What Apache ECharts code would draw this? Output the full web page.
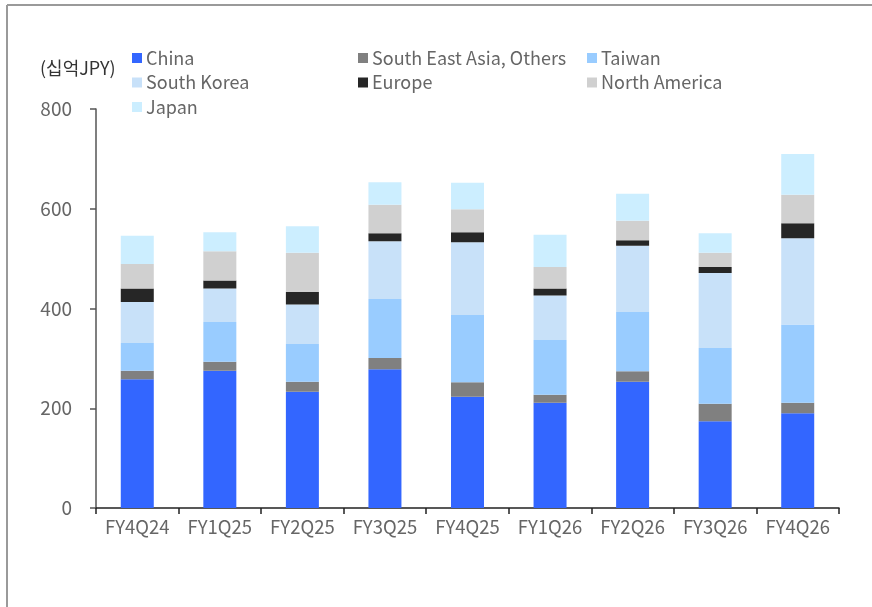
<!DOCTYPE html>
<html>
<head>
<meta charset="utf-8">
<script src="https://cdn.jsdelivr.net/npm/echarts@6/dist/echarts.min.js"></script>
<style>
  html, body { margin: 0; padding: 0; background: #fff; }
  #chart { width: 872px; height: 607px; }
</style>
</head>
<body>
<div id="chart"></div>
<script>
// 분기별 지역 매출 (십억JPY)
var quarters = ['FY4Q24', 'FY1Q25', 'FY2Q25', 'FY3Q25', 'FY4Q25', 'FY1Q26', 'FY2Q26', 'FY3Q26', 'FY4Q26'];
var china = [258, 275, 233, 278, 223, 211, 253, 174, 190];
var seaOthers = [17, 18, 20, 23, 29, 16, 21, 35, 21];
var taiwan = [56, 80, 76, 118, 135, 110, 119, 112, 157];
var southKorea = [82, 67, 79, 116, 146, 89, 133, 150, 173];
var europe = [27, 16, 25, 16, 20, 14, 11, 12, 30];
var northAmerica = [49, 59, 79, 57, 46, 43, 39, 29, 57];
var japan = [57, 38, 53, 45, 53, 65, 54, 39, 82];
var yTicks = [0, 200, 400, 600, 800];

var font = '"Noto Sans CJK KR", "Noto Sans", sans-serif';
var grey = '#666';

var chart = echarts.init(document.getElementById('chart'));

function bar(name, data, color) {
  return {
    name: name,
    type: 'bar',
    stack: 'total',
    barWidth: 33,
    data: data,
    itemStyle: {color: color},
    emphasis: {disabled: true}
  };
}

function legend(left, names) {
  return {
    orient: 'vertical',
    left: left,
    top: 44,
    itemWidth: 10,
    itemHeight: 10,
    itemGap: 6.5,
    icon: 'rect',
    data: names,
    selectedMode: false,
    textStyle: {fontFamily: font, fontSize: 18, color: grey, lineHeight: 18, padding: [0, 0, 0, -1]}
  };
}

var option = {
  animation: false,
  backgroundColor: '#fff',
  grid: {left: 96, right: 33, top: 109, bottom: 99},
  legend: [
    legend(127, ['China', 'South Korea', 'Japan']),
    legend(353, ['South East Asia, Others', 'Europe']),
    legend(582, ['Taiwan', 'North America'])
  ],
  graphic: [
    {type: 'line', shape: {x1: 7, y1: 5, x2: 872, y2: 5}, style: {stroke: '#9a9a9a', lineWidth: 2}},
    {type: 'line', shape: {x1: 7, y1: 5, x2: 7, y2: 607}, style: {stroke: '#9a9a9a', lineWidth: 2}},
    {type: 'text', left: 40, top: 59, style: {text: '(십억JPY)', font: '18px ' + font, fill: '#333'}}
  ],
  xAxis: {
    type: 'category',
    data: quarters,
    axisLine: {lineStyle: {color: '#222', width: 1.5}},
    axisTick: {show: true, length: 6, lineStyle: {color: '#222', width: 1.5}},
    axisLabel: {fontFamily: font, fontSize: 18.5, color: grey, margin: 10, interval: 0}
  },
  yAxis: {
    type: 'value',
    min: yTicks[0],
    max: yTicks[yTicks.length - 1],
    interval: 200,
    splitLine: {show: false},
    axisLine: {show: true, lineStyle: {color: '#555', width: 1.5}},
    axisTick: {show: true, length: 6, lineStyle: {color: '#555', width: 1.5}},
    axisLabel: {fontFamily: font, fontSize: 19, color: grey, margin: 24}
  },
  series: [
    bar('China', china, '#3366ff'),
    bar('South East Asia, Others', seaOthers, '#808080'),
    bar('Taiwan', taiwan, '#99ccff'),
    bar('South Korea', southKorea, '#c8e1f9'),
    bar('Europe', europe, '#262626'),
    bar('North America', northAmerica, '#d0d0d0'),
    bar('Japan', japan, '#cceeff')
  ]
};

chart.setOption(option);
</script>
</body>
</html>
